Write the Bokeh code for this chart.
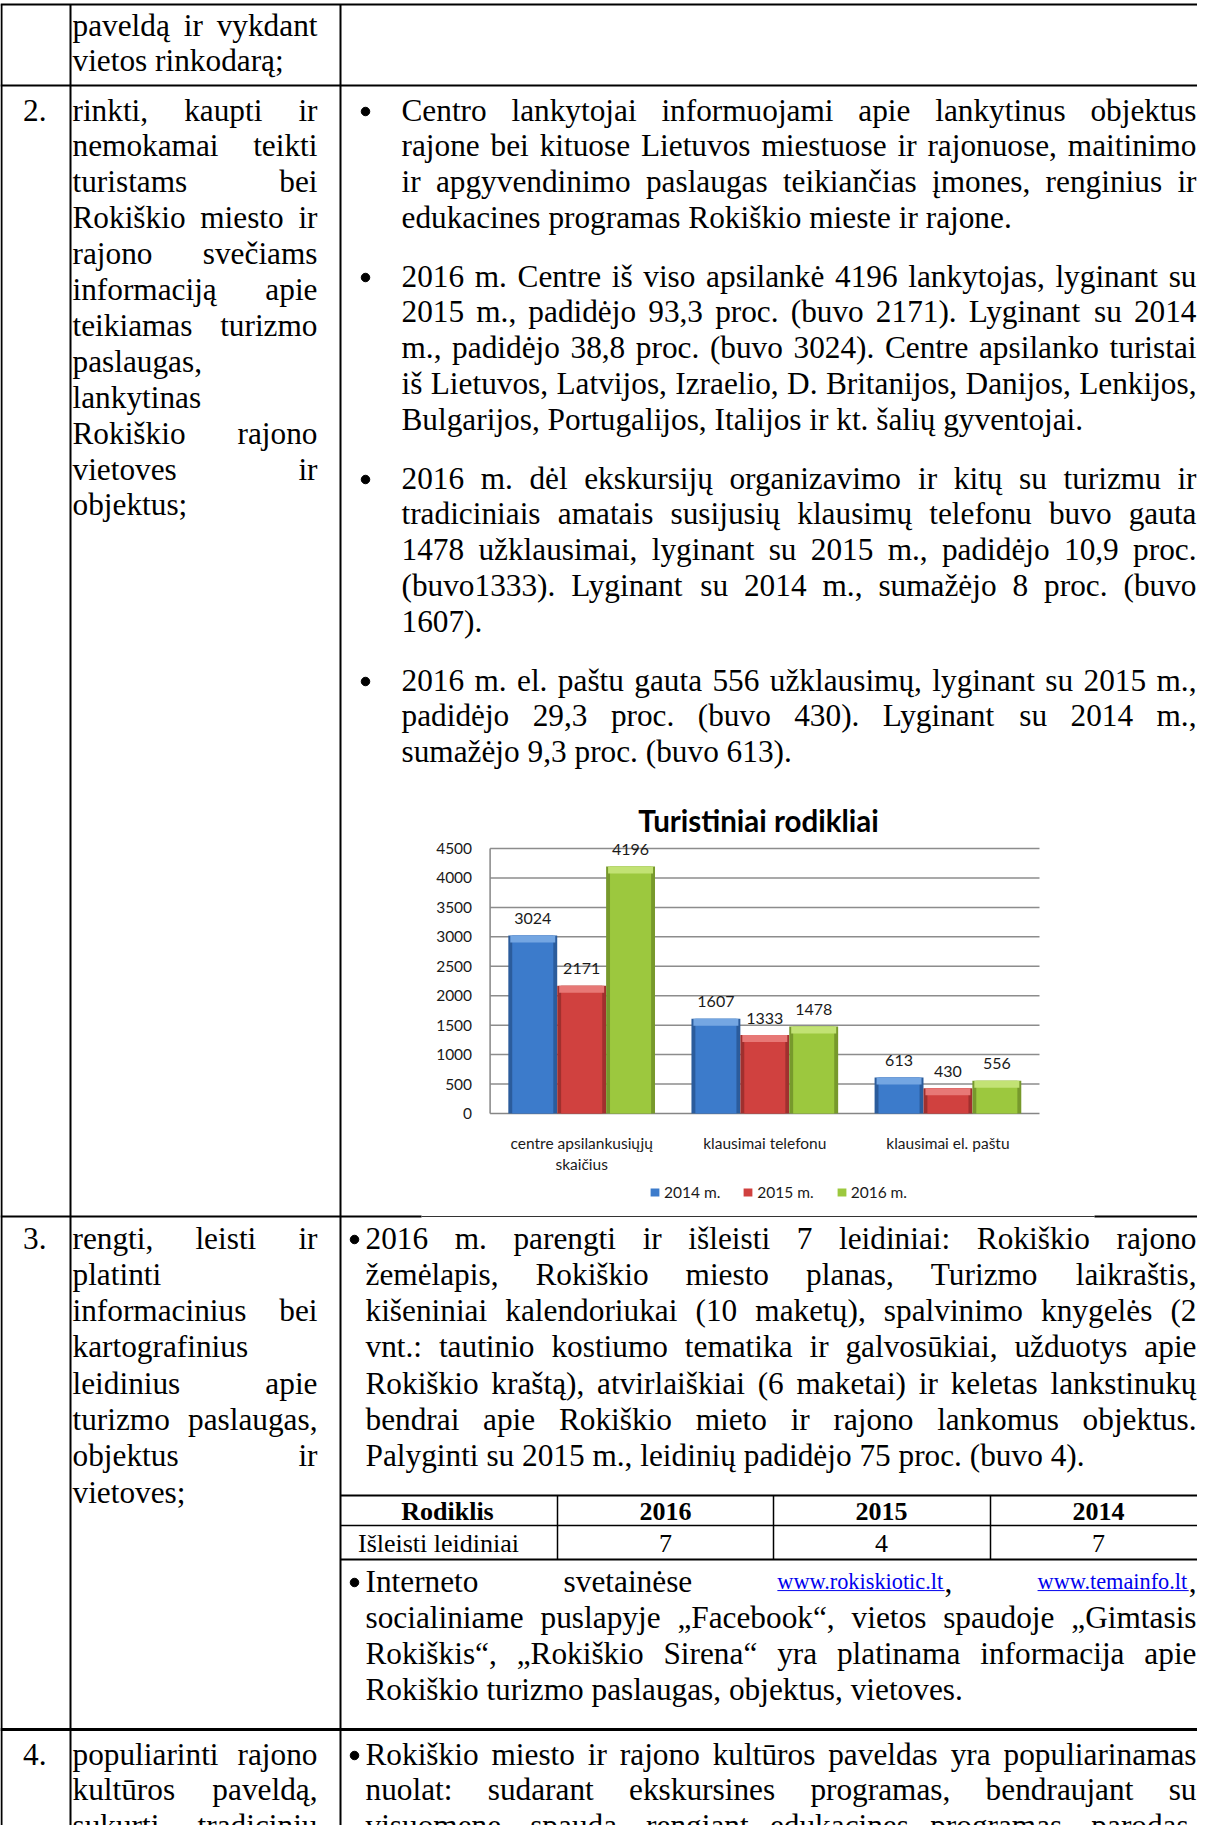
from bokeh.plotting import figure
from bokeh.models import Range1d, Legend, LegendItem, ColumnDataSource
from bokeh.embed import file_html
from bokeh.resources import INLINE
from bokeh.core.properties import value

# ---------------- chart data ----------------
categories = ["centre apsilankusiųjų\nskaičius", "klausimai telefonu", "klausimai el. paštu"]
years = ["2014 m.", "2015 m.", "2016 m."]
v2014 = [3024, 1607, 613]
v2015 = [2171, 1333, 430]
v2016 = [4196, 1478, 556]
y_ticks = [0, 500, 1000, 1500, 2000, 2500, 3000, 3500, 4000, 4500]
chart_title = "Turistiniai rodikliai"

# ---------------- document text ----------------
row1_left = [("paveldą ir vykdant", True), ("vietos rinkodarą;", False)]
row2_left = [("rinkti, kaupti ir", True), ("nemokamai teikti", True), ("turistams bei", True),
             ("Rokiškio miesto ir", True), ("rajono svečiams", True), ("informaciją apie", True),
             ("teikiamas turizmo", True), ("paslaugas,", False), ("lankytinas", False),
             ("Rokiškio rajono", True), ("vietoves ir", True), ("objektus;", False)]
row2_bullets = [
    [("Centro lankytojai informuojami apie lankytinus objektus", True),
     ("rajone bei kituose Lietuvos miestuose ir rajonuose, maitinimo", True),
     ("ir apgyvendinimo paslaugas teikiančias įmones, renginius ir", True),
     ("edukacines programas Rokiškio mieste ir rajone.", False)],
    [("2016 m. Centre iš viso apsilankė 4196 lankytojas, lyginant su", True),
     ("2015 m., padidėjo 93,3 proc. (buvo 2171). Lyginant su 2014", True),
     ("m., padidėjo 38,8 proc. (buvo 3024). Centre apsilanko turistai", True),
     ("iš Lietuvos, Latvijos, Izraelio, D. Britanijos, Danijos, Lenkijos,", True),
     ("Bulgarijos, Portugalijos, Italijos ir kt. šalių gyventojai.", False)],
    [("2016 m. dėl ekskursijų organizavimo ir kitų su turizmu ir", True),
     ("tradiciniais amatais susijusių klausimų telefonu buvo gauta", True),
     ("1478 užklausimai, lyginant su 2015 m., padidėjo 10,9 proc.", True),
     ("(buvo1333). Lyginant su 2014 m., sumažėjo 8 proc. (buvo", True),
     ("1607).", False)],
    [("2016 m. el. paštu gauta 556 užklausimų, lyginant su 2015 m.,", True),
     ("padidėjo 29,3 proc. (buvo 430). Lyginant su 2014 m.,", True),
     ("sumažėjo 9,3 proc. (buvo 613).", False)],
]
row3_left = [("rengti, leisti ir", True), ("platinti", False), ("informacinius bei", True),
             ("kartografinius", False), ("leidinius apie", True), ("turizmo paslaugas,", True),
             ("objektus ir", True), ("vietoves;", False)]
row3_bullet1 = [("2016 m. parengti ir išleisti 7 leidiniai: Rokiškio rajono", True),
                ("žemėlapis, Rokiškio miesto planas, Turizmo laikraštis,", True),
                ("kišeniniai kalendoriukai (10 maketų), spalvinimo knygelės (2", True),
                ("vnt.: tautinio kostiumo tematika ir galvosūkiai, užduotys apie", True),
                ("Rokiškio kraštą), atvirlaiškiai (6 maketai) ir keletas lankstinukų", True),
                ("bendrai apie Rokiškio mieto ir rajono lankomus objektus.", True),
                ("Palyginti su 2015 m., leidinių padidėjo 75 proc. (buvo 4).", False)]
table_header = ["Rodiklis", "2016", "2015", "2014"]
table_row = ["Išleisti leidiniai", "7", "4", "7"]
link_line = [[("Interneto", "body")], [("svetainėse", "body")],
             [("www.rokiskiotic.lt", "link"), (",", "body")],
             [("www.temainfo.lt", "link"), (",", "body")]]
row3_bullet2 = [("socialiniame puslapyje „Facebook“, vietos spaudoje „Gimtasis", True),
                ("Rokiškis“, „Rokiškio Sirena“ yra platinama informacija apie", True),
                ("Rokiškio turizmo paslaugas, objektus, vietoves.", False)]
row4_left = [("populiarinti rajono", True), ("kultūros paveldą,", True), ("sukurti tradicinių", True)]
row4_right = [("Rokiškio miesto ir rajono kultūros paveldas yra populiarinamas", True),
              ("nuolat: sudarant ekskursines programas, bendraujant su", True),
              ("visuomene, spauda, rengiant edukacines programas, parodas,", True)]

# ---------------- page geometry ----------------
OFF = 8
PW, PH = 1197, 1825

p = figure(width=PW, height=PH, x_range=Range1d(0, PW), y_range=Range1d(PH, 0),
           output_backend="svg", toolbar_location=None, min_border=0,
           x_axis_type=None, y_axis_type=None)
p.grid.visible = False
p.outline_line_color = None
p.background_fill_color = "#ffffff"
p.border_fill_color = "#ffffff"

# Times / Liberation Serif advance widths (1/1000 em)
TW = {' ': 250, '!': 333, '"': 408, "'": 180, '(': 333, ')': 333, ',': 250, '-': 333, '.': 250,
      '/': 278, ':': 278, ';': 278, '?': 444, '„': 444, '“': 444, '”': 444,
      'A': 722, 'B': 667, 'C': 667, 'D': 722, 'E': 611, 'F': 556, 'G': 722, 'H': 722, 'I': 333,
      'J': 389, 'K': 722, 'L': 611, 'M': 889, 'N': 722, 'O': 722, 'P': 556, 'Q': 722, 'R': 667,
      'S': 556, 'T': 611, 'U': 722, 'V': 722, 'W': 944, 'X': 722, 'Y': 722, 'Z': 611,
      'a': 444, 'b': 500, 'c': 444, 'd': 500, 'e': 444, 'f': 333, 'g': 500, 'h': 500, 'i': 278,
      'j': 278, 'k': 500, 'l': 278, 'm': 778, 'n': 500, 'o': 500, 'p': 500, 'q': 500, 'r': 333,
      's': 389, 't': 278, 'u': 500, 'v': 500, 'w': 722, 'x': 500, 'y': 500, 'z': 444}
ACC = {'ą': 'a', 'č': 'c', 'ę': 'e', 'ė': 'e', 'į': 'i', 'š': 's', 'ų': 'u', 'ū': 'u', 'ž': 'z',
       'Š': 'S', 'Ž': 'Z', 'Č': 'C', 'Ą': 'A', 'Ę': 'E', 'Ė': 'E', 'Į': 'I', 'Ų': 'U', 'Ū': 'U'}

SERIF = "Liberation Serif"
STY = {
    "body": dict(size=31.3, color="#000000", style="normal"),
    "link": dict(size=22.3, color="#0000ee", style="normal"),
    "hdr": dict(size=26, color="#000000", style="bold"),
    "cell": dict(size=26, color="#000000", style="normal"),
}
runs = {k: dict(left=dict(x=[], y=[], text=[]), right=dict(x=[], y=[], text=[]),
                center=dict(x=[], y=[], text=[])) for k in STY}
rects = dict(left=[], right=[], top=[], bottom=[], color=[])
underl = dict(x0=[], x1=[], y=[])
bul = dict(x=[], y=[])


def tw(s, key):
    return sum(TW.get(ACC.get(c, c), 500) for c in s) * STY[key]["size"] / 1000.0


def add_text(x, cy, text, key, align="left"):
    d = runs[key][align]
    d["x"].append(x - OFF)
    d["y"].append(cy - OFF + 0.5)
    d["text"].append(text)


def rect(x0, y0, x1, y1, color="#000000"):
    rects["left"].append(x0 - OFF); rects["right"].append(x1 - OFF)
    rects["top"].append(y0 - OFF); rects["bottom"].append(y1 - OFF)
    rects["color"].append(color)


def hline(y, x0, x1, t=2.0, color="#000000"):
    rect(x0, y - t / 2, x1, y + t / 2, color)


def vline(x, y0, y1, t=2.0, color="#000000"):
    rect(x - t / 2, y0, x + t / 2, y1, color)


def line_words(left, right, cy, words, justify):
    widths = [sum(tw(t, k) for t, k in w) for w in words]
    if justify and len(words) > 1:
        gap = (right - left - sum(widths)) / (len(words) - 1)
    else:
        gap = tw(" ", "body")
    x = left
    n = len(words)
    for i, (w, wd) in enumerate(zip(words, widths)):
        if justify and n > 1 and i == n - 1 and len(w) == 1:
            add_text(right, cy, w[0][0], w[0][1], "right")
        else:
            xx = x
            for t, k in w:
                add_text(xx, cy, t, k)
                if k == "link":
                    underl["x0"].append(xx - OFF)
                    underl["x1"].append(xx + tw(t, k) - OFF)
                    underl["y"].append(cy - OFF + 0.34 * STY[k]["size"] + 2.5)
                xx += tw(t, k)
        x += wd + gap


def tline(left, right, cy, text, justify):
    line_words(left, right, cy, [[(w, "body")] for w in text.split(" ")], justify)


def bullet(cx, cy):
    bul["x"].append(cx - OFF)
    bul["y"].append(cy + 2 - OFF)


# ---------------- table grid ----------------
X_L, X_C1, X_C2, X_R = 9, 78, 348, 1213
vline(X_L, 12, 1841)
vline(X_C1, 12, 1841)
vline(X_C2, 12, 1841)
hline(12, 8, X_R)
hline(93, 8, X_R)
hline(1224, 8, 429, 2)
hline(1224, 429, 1102, 1.2, "#333333")
hline(1224, 1102, X_R, 2)
hline(1737, 8, X_R, 3)

LT0, LT1 = 80, 325
RT0, RT1 = 409, 1204
R3T0 = 373
NUM_R = 54

for i, (t, j) in enumerate(row1_left):
    tline(LT0, LT1, 32 + 35 * i, t, j)

L2 = 35.9
add_text(NUM_R, 117, "2.", "body", "right")
for i, (t, j) in enumerate(row2_left):
    tline(LT0, LT1, 117 + L2 * i, t, j)
for s, par in zip([117, 283, 485, 687], row2_bullets):
    bullet(373, s)
    for i, (t, j) in enumerate(par):
        tline(RT0, RT1, s + L2 * i, t, j)

L3 = 36.3
add_text(NUM_R, 1245, "3.", "body", "right")
for i, (t, j) in enumerate(row3_left):
    tline(LT0, LT1, 1245 + L3 * i, t, j)
bullet(362, 1245)
for i, (t, j) in enumerate(row3_bullet1):
    tline(R3T0, RT1, 1245 + L3 * i, t, j)

hline(1503, X_C2, X_R, 2)
hline(1533, X_C2, X_R, 1.5)
hline(1567, X_C2, X_R, 2)
for x in (565, 781, 998):
    vline(x, 1503, 1567, 1.5)
hdr_centers = [455, 673, 889, 1106]
row_centers = [446, 673, 889, 1106]
for cx, t in zip(hdr_centers, table_header):
    add_text(cx, 1518, t, "hdr", "center")
for cx, t in zip(row_centers, table_row):
    add_text(cx, 1550, t, "cell", "center")

bullet(362, 1588)
line_words(R3T0, RT1, 1588, link_line, True)
for i, (t, j) in enumerate(row3_bullet2):
    tline(R3T0, RT1, 1624 + L3 * i, t, j)

L4 = 35.5
add_text(NUM_R, 1761, "4.", "body", "right")
for i, (t, j) in enumerate(row4_left):
    tline(LT0, LT1, 1761 + L4 * i, t, j)
bullet(362, 1761)
for i, (t, j) in enumerate(row4_right):
    tline(R3T0, RT1, 1761 + L4 * i, t, j)

p.quad(left="left", right="right", top="top", bottom="bottom", color="color",
       source=ColumnDataSource(rects), line_color=None)
p.segment(x0="x0", x1="x1", y0="y", y1="y", source=ColumnDataSource(underl),
          line_color="#0000ee", line_width=1)
p.scatter(x="x", y="y", source=ColumnDataSource(bul), size=8.5, color="#000000")
for key, st in STY.items():
    for align, d in runs[key].items():
        if not d["x"]:
            continue
        p.text(x="x", y="y", text="text", source=ColumnDataSource(d), text_align=align,
               text_baseline="middle", text_font=value(SERIF),
               text_font_size=f"{st['size']}px", text_font_style=st["style"],
               text_color=st["color"])

# ---------------- chart (own scales mapped onto its frame) ----------------
xL, xR = 497.6 - OFF, 1047 - OFF      # plot frame, page px
yB, yT = 1121 - OFF, 856 - OFF
ncat = len(categories)
u = (xR - xL) / ncat
cx0 = -0.5 - xL / u
p.extra_x_ranges = {"cx": Range1d(cx0, cx0 + PW / u)}
dpp = (y_ticks[-1] - y_ticks[0]) / (yB - yT)
cy0 = y_ticks[0] - (PH - yB) * dpp
p.extra_y_ranges = {"cy": Range1d(cy0, cy0 + PH * dpp)}
R = dict(x_range_name="cx", y_range_name="cy")
lo, hi = -0.5, ncat - 0.5

# gridlines & axes
p.segment(x0=[lo] * (len(y_ticks) - 1), x1=[hi] * (len(y_ticks) - 1), y0=y_ticks[1:], y1=y_ticks[1:],
          line_color="#8c8c8c", line_width=1.5, **R)
p.segment(x0=[lo], x1=[lo], y0=[y_ticks[0]], y1=[y_ticks[-1]], line_color="#868686", line_width=1.5, **R)
p.segment(x0=[lo], x1=[hi], y0=[y_ticks[0]], y1=[y_ticks[0]], line_color="#868686", line_width=1.5, **R)
p.text(x=[lo - 18 / u] * len(y_ticks), y=y_ticks, text=[str(t) for t in y_ticks],
       text_align="right", text_baseline="middle", text_font=value("Lato"),
       text_font_size="15.5px", text_color="#1a1a1a", **R)

# category labels
cat_x, cat_y, cat_t = [], [], []
for i, c in enumerate(categories):
    for k, part in enumerate(c.split("\n")):
        cat_x.append(i)
        cat_y.append(1150 - OFF + 21 * k)
        cat_t.append(part)
p.text(x=cat_x, y=cat_y, text=cat_t, x_range_name="cx", text_align="center",
       text_baseline="middle", text_font=value("Lato"), text_font_size="15.5px", text_color="#1a1a1a")

# title
p.text(x=[766 - OFF], y=[828 - OFF], text=[chart_title], text_align="center", text_baseline="middle",
       text_font=value("Lato"), text_font_style="bold", text_font_size="29.5px", text_color="#000000")

# bars
BW = 0.267
idx = list(range(ncat))
series = [
    (years[0], v2014, -BW, "#3c7bcb", "#2b5c9c", "#74a6e2"),
    (years[1], v2015, 0.0, "#d0413f", "#a0302e", "#e77876"),
    (years[2], v2016, BW, "#9cc83e", "#77992c", "#c2e274"),
]
items = []
for label, vals, off, main, edge, light in series:
    xs = [i + off for i in idx]
    p.vbar(x=xs, top=vals, bottom=0, width=BW, fill_color=edge, line_color=None, **R)
    r = p.vbar(x=xs, top=vals, bottom=0, width=BW * 0.84, fill_color=main, line_color=None, **R)
    p.vbar(x=xs, top=vals, bottom=[v - 7 * dpp for v in vals], width=BW * 0.92,
           fill_color=light, line_color=None, **R)
    p.text(x=xs, y=[v + 17 * dpp for v in vals], text=[str(v) for v in vals], text_align="center",
           text_baseline="middle", text_font=value("Lato"), text_font_size="16px",
           text_color="#1a1a1a", **R)
    items.append(LegendItem(label=label, renderers=[r]))

legend = Legend(items=items, orientation="horizontal", location=(657 - OFF, PH - (1210 - OFF)),
                glyph_width=11, glyph_height=10, label_standoff=4, spacing=22,
                padding=0, margin=0, border_line_color=None, background_fill_alpha=0,
                label_text_font="Lato", label_text_font_size="15.5px", label_text_color="#1a1a1a",
                label_height=20)
p.add_layout(legend)

open("out.html", "w").write(file_html(p, INLINE))
